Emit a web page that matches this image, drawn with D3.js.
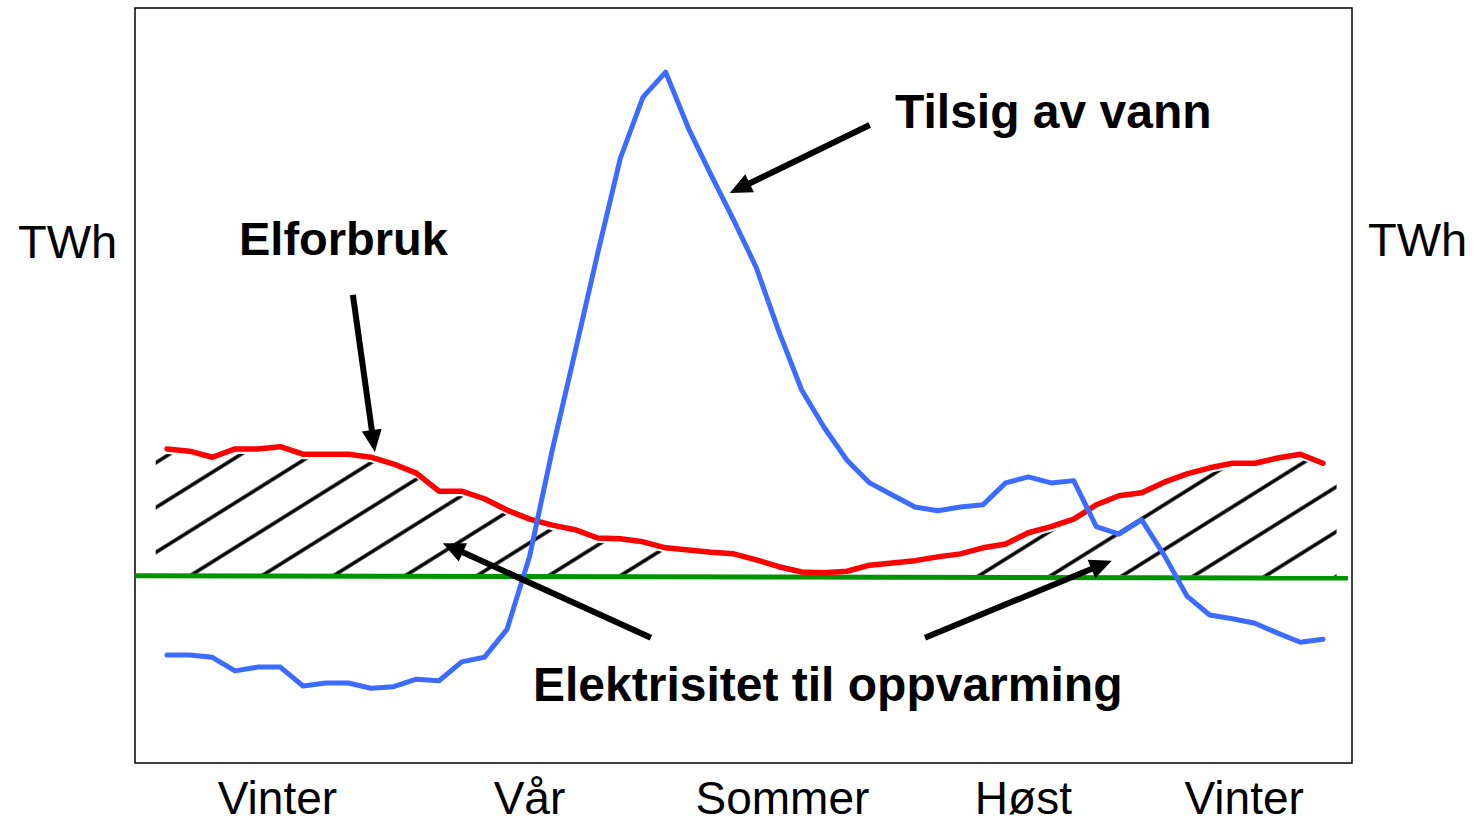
<!DOCTYPE html>
<html>
<head>
<meta charset="utf-8">
<script src="https://cdn.jsdelivr.net/npm/d3@7"></script>
<style>
    body { margin: 0; background: #ffffff; }
    svg { display: block; font-family: "Liberation Sans", Arial, sans-serif; }
</style>
</head>
<body>
<div id="grafo"></div>
<script>
// uker 1..52
var uker = d3.range(1, 53);

// Tilsig av vann (blå)
var tilsig = [14.3, 14.3, 14.0, 12.2, 12.7, 12.7, 10.2, 10.6, 10.6, 9.9,
    10.1, 11.1, 10.9, 13.4, 14.0, 17.7, 27.4, 41.5, 54.4, 67.5,
    80.1, 88.2, 91.5, 84.1, 77.9, 71.9, 65.6, 57.1, 49.4, 44.4,
    40.1, 37.1, 35.5, 33.9, 33.4, 33.9, 34.2, 37.1, 37.9, 37.1,
    37.4, 31.3, 30.3, 32.2, 27.5, 22.1, 19.6, 19.1, 18.5, 17.2,
    16.0, 16.4];

// Elforbruk (rød)
var elforbruk = [41.6, 41.3, 40.5, 41.6, 41.6, 41.9, 40.9, 40.9, 40.9, 40.5,
    39.6, 38.4, 36.0, 36.0, 35.0, 33.5, 32.3, 31.5, 30.9, 29.8,
    29.7, 29.3, 28.5, 28.2, 27.9, 27.7, 26.9, 26.0, 25.3, 25.2,
    25.4, 26.2, 26.5, 26.8, 27.3, 27.7, 28.5, 29.0, 30.5, 31.3,
    32.3, 34.2, 35.4, 35.8, 37.2, 38.3, 39.1, 39.7, 39.7, 40.4,
    40.9, 39.7];

// grunnlast (grønn)
var grunnUker = [-0.4, 53.1];
var grunnlast = [24.8, 24.5];

// perioder med elektrisitet til oppvarming (skravert)
var oppvarmingStart = [0.5, 35.4];
var oppvarmingSlutt = [23.1, 52.6];

// sesonger langs x-aksen
var sesonger = ["Vinter", "Vår", "Sommer", "Høst", "Vinter"];
var sesongUker = [5.85, 16.97, 28.13, 38.76, 48.5];

// piler [fraUke, fraVerdi, tilUke, tilVerdi]
var piler = [
    [32.0, 84.5, 25.83, 75.5],
    [9.2, 62.0, 10.17, 41.2],
    [22.35, 16.6, 13.17, 29.1],
    [34.44, 16.6, 42.68, 26.8]
];

function grafo() {
    var w = 1475,
        h = 825;

    var boks = {left: 135, top: 8, right: 1352, bottom: 763};

    var palette = {
        "black": "#000000",
        "blue": "#3b6cff",
        "red": "#ff0000",
        "green": "#009400"
    };

    var x = d3.scaleLinear().domain([1, 52]).range([167, 1323]);
    var y = d3.scaleLinear().domain([0, 100]).range([boks.bottom, boks.top]);

    var vis = d3.select("#grafo")
        .append("svg")
        .attr("width", w)
        .attr("height", h);

    var defs = vis.append("defs");

    //SKRAVERING
    var pattern = defs.append("pattern")
        .attr("id", "skravur")
        .attr("patternUnits", "userSpaceOnUse")
        .attr("width", 38)
        .attr("height", 38)
        .attr("patternTransform", "rotate(-32)");
    pattern.append("line")
        .attr("x1", 0).attr("y1", 19)
        .attr("x2", 38).attr("y2", 19)
        .attr("stroke", palette.black)
        .attr("stroke-width", 3.5);

    var forbrukVed = function(u) {
        var i = Math.max(1, Math.min(52, u));
        var lo = Math.floor(i), hi = Math.ceil(i);
        var a = elforbruk[lo - 1], b = elforbruk[hi - 1];
        return a + (b - a) * (i - lo);
    };
    var grunnVed = function(u) {
        var t = (u - grunnUker[0]) / (grunnUker[1] - grunnUker[0]);
        return grunnlast[0] + (grunnlast[1] - grunnlast[0]) * t;
    };

    var omraade = d3.area()
        .x(function(d) { return x(d); })
        .y0(function(d) { return y(grunnVed(d)) - 2; })
        .y1(function(d) { return y(forbrukVed(d)) + 5; });

    for (var p = 0; p < oppvarmingStart.length; p++) {
        var s = oppvarmingStart[p], e = oppvarmingSlutt[p];
        var pts = [s].concat(uker.filter(function(u) { return u > s && u < e; })).concat([e]);
        vis.append("path")
            .attr("d", omraade(pts))
            .attr("fill", "url(#skravur)")
            .attr("stroke", "none");
    }

    //RAMME
    vis.append("rect")
        .attr("x", boks.left)
        .attr("y", boks.top)
        .attr("width", boks.right - boks.left)
        .attr("height", boks.bottom - boks.top)
        .attr("fill", "none")
        .attr("stroke", palette.black)
        .attr("stroke-width", 1.5);

    //LINJER
    var linje = d3.line()
        .x(function(d, i) { return x(uker[i]); })
        .y(function(d) { return y(d); });

    vis.append("path")
        .attr("d", d3.line()
            .x(function(d, i) { return x(grunnUker[i]); })
            .y(function(d) { return y(d); })(grunnlast))
        .attr("fill", "none")
        .attr("stroke", palette.green)
        .attr("stroke-width", 5);

    vis.append("path")
        .attr("d", linje(elforbruk))
        .attr("fill", "none")
        .attr("stroke", palette.red)
        .attr("stroke-width", 5.5)
        .attr("stroke-linejoin", "round")
        .attr("stroke-linecap", "round");

    vis.append("path")
        .attr("d", linje(tilsig))
        .attr("fill", "none")
        .attr("stroke", palette.blue)
        .attr("stroke-width", 5)
        .attr("stroke-linejoin", "round")
        .attr("stroke-linecap", "round");

    //PILER
    var hodeLengde = 22, hodeBredde = 10;
    piler.forEach(function(d) {
        var x1 = x(d[0]), y1 = y(d[1]), x2 = x(d[2]), y2 = y(d[3]);
        var dx = x2 - x1, dy = y2 - y1;
        var len = Math.sqrt(dx * dx + dy * dy);
        var ux = dx / len, uy = dy / len;
        var bx = x2 - ux * hodeLengde, by = y2 - uy * hodeLengde;
        vis.append("line")
            .attr("x1", x1).attr("y1", y1)
            .attr("x2", bx + ux * 2).attr("y2", by + uy * 2)
            .attr("stroke", palette.black)
            .attr("stroke-width", 6);
        vis.append("polygon")
            .attr("points", [
                [x2, y2],
                [bx - uy * hodeBredde, by + ux * hodeBredde],
                [bx + uy * hodeBredde, by - ux * hodeBredde]
            ].map(function(q) { return q.join(","); }).join(" "))
            .attr("fill", palette.black);
    });

    //AKSE
    var akse = vis.append("g")
        .attr("transform", "translate(0," + boks.bottom + ")")
        .call(d3.axisBottom(x)
            .tickValues(sesongUker)
            .tickFormat(function(d, i) { return sesonger[i]; })
            .tickSize(0));
    akse.select(".domain").remove();
    akse.selectAll("text")
        .attr("y", 51)
        .attr("dy", 0)
        .attr("font-family", "Liberation Sans, Arial, sans-serif")
        .attr("font-size", "46px")
        .attr("fill", palette.black);

    //TEKST
    var tekster = [
        {t: "TWh", x: 18, y: 258, bold: false, size: 47},
        {t: "TWh", x: 1368, y: 256, bold: false, size: 47},
        {t: "Elforbruk", x: 239, y: 255, bold: true, size: 47},
        {t: "Tilsig av vann", x: 895, y: 128, bold: true, size: 48},
        {t: "Elektrisitet til oppvarming", x: 533, y: 701, bold: true, size: 48}
    ];
    vis.selectAll("text.etikett")
        .data(tekster)
        .enter().append("text")
        .attr("class", "etikett")
        .attr("x", function(d) { return d.x; })
        .attr("y", function(d) { return d.y; })
        .attr("font-size", function(d) { return d.size + "px"; })
        .attr("font-weight", function(d) { return d.bold ? "bold" : "normal"; })
        .attr("fill", palette.black)
        .text(function(d) { return d.t; });
}

grafo();
</script>
</body>
</html>
